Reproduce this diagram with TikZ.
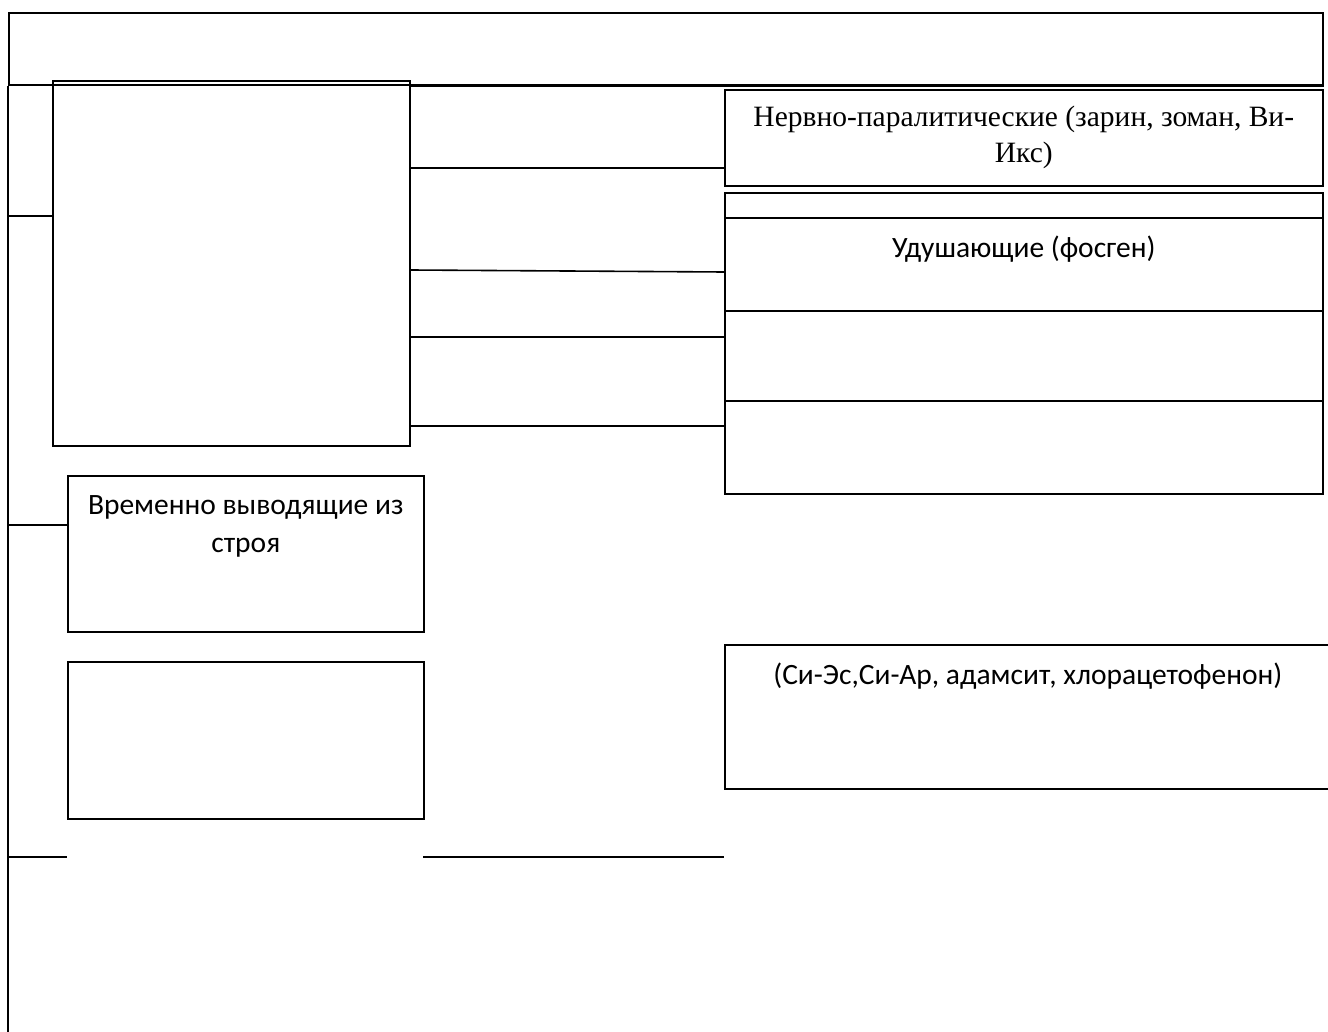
\documentclass[tikz,border=0pt]{standalone}
\usepackage{fontspec}
\setmainfont{Liberation Serif}
\newfontfamily\calfont{Carlito}
\usetikzlibrary{positioning, calc}
\tikzset{
  cell/.style={
    rectangle,
    draw=black, line width=1.6pt,
    inner sep=0pt,
    anchor=north west
  },
  serifText/.style={
    inner sep=0pt,
    align=center,
    anchor=north,
    font=\fontsize{29.5}{36}\selectfont
  },
  sansText/.style={
    inner sep=0pt,
    align=center,
    anchor=north,
    font=\calfont\fontsize{29.5}{38}\selectfont
  },
  link/.style={
    draw=black,
    line width=1.6pt
  }
}

\begin{document}
\begin{tikzpicture}[x=1pt, y=-1pt]
\useasboundingbox (0,0) rectangle (1328,1032);

% nodes
\node[cell, minimum width=1314pt, minimum height=72pt] (title) at (8,12) {};
\node[cell, minimum width=357pt, minimum height=365pt] (main) at (52,80) {};

\node[cell, minimum width=598pt, minimum height=96pt] (nerve) at (724,89) {};
\node[serifText, below=17pt of nerve.north] {Нервно-паралитические (зарин, зоман, Ви-\\Икс)};

\node[cell, minimum width=598pt, minimum height=25pt] (thin) at (724,192) {};

\node[cell, minimum width=598pt, minimum height=93pt] (choke) at (724,217) {};
\node[sansText, below=19pt of choke.north] {Удушающие (фосген)};

\node[cell, minimum width=598pt, minimum height=90pt] (blankA) at (724,310) {};
\node[cell, minimum width=598pt, minimum height=93pt] (blankB) at (724,400) {};

\node[cell, minimum width=356pt, minimum height=156pt] (temp) at (67,475) {};
\node[sansText, below=20pt of temp.north] {Временно выводящие из\\строя};

\node[cell, minimum width=356pt, minimum height=157pt] (blankC) at (67,661) {};

\node[cell, minimum width=606pt, minimum height=144pt] (irrit) at (724,644) {};
\node[sansText, below=19pt of irrit.north] {(Си-Эс,Си-Ар, адамсит, хлорацетофенон)};

% edges
\coordinate (spineEnd) at (title.south west |- 0,1032);
\draw [link] (title.south west) -- (spineEnd);

%% left stubs
\draw [link] (title.south west |- 0,85) -- (main.west |- 0,85);
\draw [link] (title.south west |- 0,216) -- (main.west |- 0,216);
\draw [link] (title.south west |- 0,525) -- (temp.west |- 0,525);

\coordinate (gapL) at (67,857);
\coordinate (gapR) at (423,857);
\coordinate (gapEnd) at (724,857);
\draw [link] (title.south west |- gapL) -- (gapL);
\draw [link] (gapR) -- (gapEnd);

%% main to the right column
\draw [link] (main.east |- 0,86) -- (title.south east |- 0,86);
\draw [link] (main.east |- 0,168) -- (nerve.west |- 0,168);
\draw [link] (main.east |- 0,270) -- (choke.west |- 0,272);
\draw [link] (main.east |- 0,337) -- (blankA.west |- 0,337);
\draw [link] (main.east |- 0,426) -- (blankB.west |- 0,426);
\end{tikzpicture}
\end{document}
